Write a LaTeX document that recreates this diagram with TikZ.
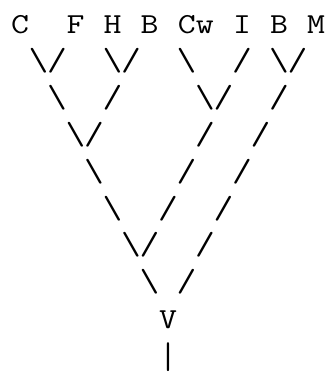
\documentclass[tikz,border=0pt]{standalone}
\usepackage{fontspec}
\begin{document}
\begin{tikzpicture}[x=1pt,y=1pt,
  glyph/.style={inner sep=0pt, anchor=base, text=black, xscale=1.2, transform shape,
    font=\ttfamily\fontsize{29}{35}\selectfont},
  slash/.style={glyph, font=\ttfamily\fontsize{32}{38}\selectfont}]
\useasboundingbox (0,0) rectangle (327,-373);
\newcommand\G[4]{\node[glyph] (#1) at ({20+18.5*#2},{-33-36.9*#3}) {#4};}
\newcommand\Sl[4]{\node[slash] (#1) at ({20+18.5*#2},{-33.5-36.9*#3}) {#4};}
\newcommand\bs{\textbackslash}
% leaves
\G{c}{0}{0}{C}
\G{f}{3}{0}{F}
\G{h}{5}{0}{H}
\G{b1}{7}{0}{B}
\G{cw}{9.5}{0}{Cw}
\G{i}{12}{0}{I}
\G{b2}{14}{0}{B}
\G{m}{16}{0}{M}
% row 1
\Sl{r1a}{1}{1}{\bs}
\Sl{r1b}{2}{1}{/}
\Sl{r1c}{5}{1}{\bs}
\Sl{r1d}{6}{1}{/}
\Sl{r1e}{9}{1}{\bs}
\Sl{r1f}{12}{1}{/}
\Sl{r1g}{14}{1}{\bs}
\Sl{r1h}{15}{1}{/}
% row 2
\Sl{r2a}{2}{2}{\bs}
\Sl{r2b}{5}{2}{/}
\Sl{r2c}{10}{2}{\bs}
\Sl{r2d}{11}{2}{/}
\Sl{r2e}{14}{2}{/}
% row 3
\Sl{r3a}{3}{3}{\bs}
\Sl{r3b}{4}{3}{/}
\Sl{r3c}{10}{3}{/}
\Sl{r3d}{13}{3}{/}
% row 4
\Sl{r4a}{4}{4}{\bs}
\Sl{r4b}{9}{4}{/}
\Sl{r4c}{12}{4}{/}
% row 5
\Sl{r5a}{5}{5}{\bs}
\Sl{r5b}{8}{5}{/}
\Sl{r5c}{11}{5}{/}
% row 6
\Sl{r6a}{6}{6}{\bs}
\Sl{r6b}{7}{6}{/}
\Sl{r6c}{10}{6}{/}
% row 7
\Sl{r7a}{7}{7}{\bs}
\Sl{r7b}{9}{7}{/}
% root
\G{v}{8}{8}{V}
\node[glyph, anchor=north, yscale=1.28] (stem) at ({20+18.5*8},-342) {|};
\end{tikzpicture}
\end{document}
